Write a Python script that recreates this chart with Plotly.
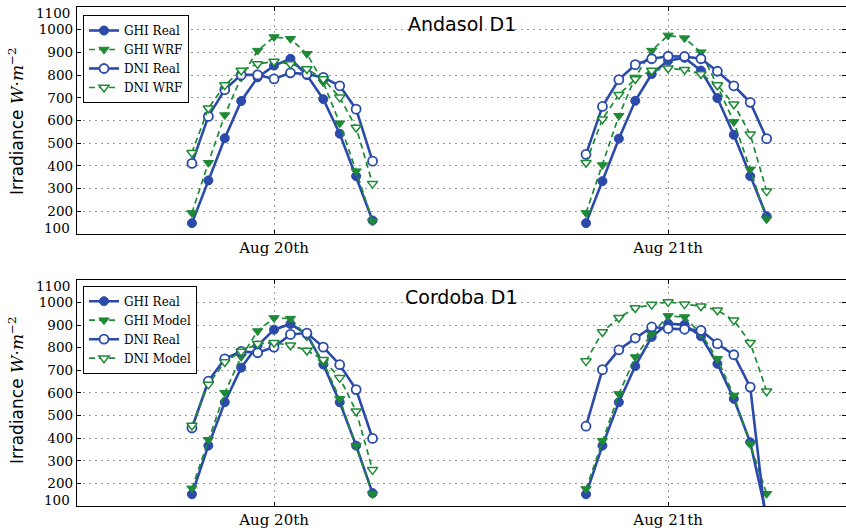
import pandas as pd
import plotly.graph_objects as go

# ---------------- data ----------------
day_dates = ["2013-08-20", "2013-08-21"]
day_labels = ["Aug 20th", "Aug 21th"]
hours = [7, 8, 9, 10, 11, 12, 13, 14, 15, 16, 17, 18]

# Andasol D1 (top panel) - [Aug 20, Aug 21]
and_ghi_real = [
    [148, 336, 522, 686, 790, 842, 872, 800, 694, 542, 355, 160],
    [148, 333, 520, 687, 805, 864, 876, 820, 699, 537, 355, 178],
]
and_ghi_wrf = [
    [193, 414, 624, 790, 908, 968, 960, 894, 768, 588, 377, 156],
    [193, 404, 621, 790, 908, 975, 963, 901, 753, 594, 385, 165],
]
and_dni_real = [
    [411, 618, 736, 801, 801, 783, 810, 805, 790, 753, 650, 421],
    [451, 662, 780, 846, 872, 883, 882, 872, 817, 753, 680, 520],
]
and_dni_wrf = [
    [458, 654, 756, 820, 849, 860, 849, 827, 783, 702, 569, 322],
    [414, 606, 714, 783, 820, 830, 824, 805, 756, 672, 539, 289],
]

# Cordoba D1 (bottom panel) - [Aug 20, Aug 21]
cor_ghi_real = [
    [152, 367, 559, 712, 810, 880, 905, 860, 726, 559, 367, 157],
    [152, 367, 559, 719, 848, 907, 902, 851, 729, 574, 382, 55],
]
cor_ghi_model = [
    [178, 393, 601, 760, 874, 932, 929, 850, 737, 574, 367, 152],
    [175, 389, 596, 759, 862, 941, 936, 862, 751, 589, 374, 154],
]
cor_dni_real = [
    [445, 652, 751, 784, 778, 803, 859, 865, 803, 725, 615, 399],
    [453, 703, 791, 843, 892, 885, 882, 877, 818, 769, 626, 0],
]
cor_dni_model = [
    [456, 638, 737, 784, 818, 822, 811, 788, 747, 667, 519, 260],
    [741, 870, 933, 976, 991, 1003, 993, 984, 966, 922, 822, 608],
]

y_ticks = [100, 200, 300, 400, 500, 600, 700, 800, 900, 1000, 1100]

# ---------------- helpers ----------------
BLUE = "#2b4aa9"
GREEN = "#1e8a35"


def build_xy(series):
    xs, ys = [], []
    for d, vals in zip(day_dates, series):
        base = pd.Timestamp(d)
        for h, v in zip(hours, vals):
            xs.append(base + pd.Timedelta(hours=h))
            ys.append(v)
        xs.append(None)
        ys.append(None)
    return xs[:-1], ys[:-1]


styles = {
    "ghi_real": dict(mode="lines+markers",
                     line=dict(color=BLUE, width=2.6),
                     marker=dict(symbol="circle", size=9, color=BLUE,
                                 line=dict(color=BLUE, width=1))),
    "ghi_model": dict(mode="lines+markers",
                      line=dict(color=GREEN, width=1.7, dash="6px,4px"),
                      marker=dict(symbol="triangle-down", size=9, color=GREEN,
                                  line=dict(color=GREEN, width=1))),
    "dni_real": dict(mode="lines+markers",
                     line=dict(color=BLUE, width=2.6),
                     marker=dict(symbol="circle", size=9, color="white",
                                 line=dict(color=BLUE, width=1.8))),
    "dni_model": dict(mode="lines+markers",
                      line=dict(color=GREEN, width=1.7, dash="6px,4px"),
                      marker=dict(symbol="triangle-down", size=9, color="white",
                                  line=dict(color=GREEN, width=1.5))),
}

fig = go.Figure()

panels = [
    ("x", "y", "legend", [
        ("GHI Real", and_ghi_real, "ghi_real"),
        ("GHI WRF", and_ghi_wrf, "ghi_model"),
        ("DNI Real", and_dni_real, "dni_real"),
        ("DNI WRF", and_dni_wrf, "dni_model"),
    ]),
    ("x2", "y2", "legend2", [
        ("GHI Real", cor_ghi_real, "ghi_real"),
        ("GHI Model", cor_ghi_model, "ghi_model"),
        ("DNI Real", cor_dni_real, "dni_real"),
        ("DNI Model", cor_dni_model, "dni_model"),
    ]),
]

for xa, ya, lg, series_list in panels:
    for name, data, st in series_list:
        xs, ys = build_xy(data)
        fig.add_trace(go.Scatter(x=xs, y=ys, name=name, xaxis=xa, yaxis=ya,
                                 legend=lg, connectgaps=False, **styles[st]))

tick_positions = [pd.Timestamp(d) + pd.Timedelta(hours=12) for d in day_dates]
x_range = [pd.Timestamp(day_dates[0]), pd.Timestamp(day_dates[1]) + pd.Timedelta(hours=22, minutes=50)]

axis_common = dict(showline=True, linecolor="black", linewidth=1.3, mirror="ticks",
                   ticks="inside", ticklen=4, tickcolor="black",
                   showgrid=True, gridcolor="#9a9a9a", gridwidth=1, griddash="2px,4px",
                   zeroline=False)

TICK_FONT = dict(family="DejaVu Serif", size=13.5, color="black")

# inner ticks get regular axis labels; the two end labels are nudged inward
inner_ticks = y_ticks[1:-1]
end_ticks = [y_ticks[0], y_ticks[-1]]

xaxis_common = dict(axis_common, range=x_range, tickmode="array", tickvals=tick_positions,
                    ticktext=day_labels,
                    tickfont=dict(family="DejaVu Serif", size=15, color="black"))
yaxis_common = dict(axis_common, range=[y_ticks[0], y_ticks[-1]], tickmode="array",
                    tickvals=inner_ticks, tickfont=TICK_FONT)

legend_common = dict(xanchor="left", yanchor="top", bordercolor="black", borderwidth=1,
                     bgcolor="white", font=dict(family="DejaVu Serif", size=12, color="black"),
                     itemwidth=30, tracegroupgap=0)

ytitle = ("Irradiance <span style='font-family:DejaVu Serif'><i>W</i>·<i>m</i>"
          "<sup>−2</sup></span>")

annotations = [
    dict(text="Andasol D1", xref="x domain", yref="y domain", x=0.5, y=0.927,
         showarrow=False, font=dict(family="DejaVu Sans", size=19, color="black"),
         xanchor="center", yanchor="middle"),
    dict(text="Cordoba D1", xref="x2 domain", yref="y2 domain", x=0.5, y=0.925,
         showarrow=False, font=dict(family="DejaVu Sans", size=19, color="black"),
         xanchor="center", yanchor="middle"),
    dict(text=ytitle, xref="paper", yref="paper", x=-0.0793, y=0.7715, textangle=-90,
         showarrow=False, font=dict(family="DejaVu Sans", size=17, color="black"),
         xanchor="center", yanchor="middle"),
    dict(text=ytitle, xref="paper", yref="paper", x=-0.0793, y=0.2325, textangle=-90,
         showarrow=False, font=dict(family="DejaVu Sans", size=17, color="black"),
         xanchor="center", yanchor="middle"),
]
for yref in ["y", "y2"]:
    for val, shift in zip(end_ticks, [6, -6]):
        annotations.append(dict(text=str(val), xref="paper", yref=yref, x=-0.0065, y=val,
                                xanchor="right", yanchor="middle", yshift=shift,
                                showarrow=False, font=TICK_FONT))

fig.update_layout(
    width=846, height=532,
    margin=dict(l=77, r=0, t=7, b=26),
    paper_bgcolor="white", plot_bgcolor="white",
    xaxis=dict(xaxis_common, domain=[0, 1], anchor="y"),
    yaxis=dict(yaxis_common, domain=[0.545, 1], anchor="x"),
    xaxis2=dict(xaxis_common, domain=[0, 1], anchor="y2"),
    yaxis2=dict(yaxis_common, domain=[0, 0.453], anchor="x2"),
    legend=dict(legend_common, x=0.0078, y=0.984),
    legend2=dict(legend_common, x=0.0078, y=0.4415),
    annotations=annotations,
    showlegend=True,
)

fig.write_html("out.html")
